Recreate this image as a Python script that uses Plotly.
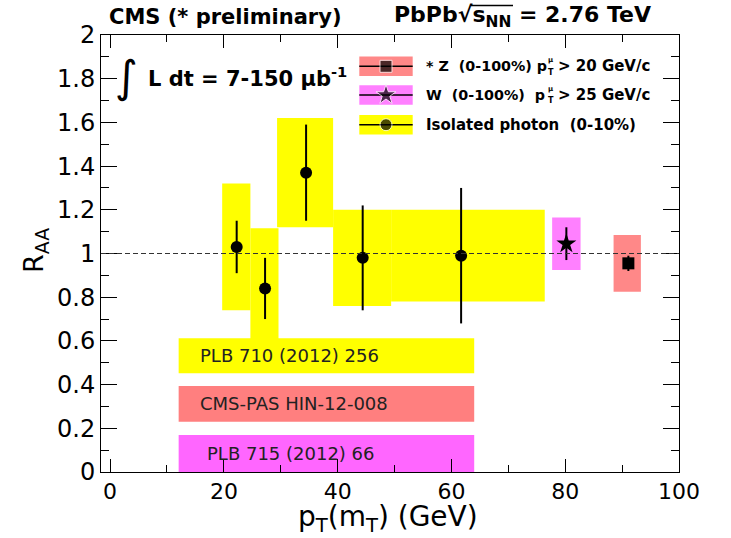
import plotly.graph_objects as go

# ---- Isolated photon R_AA (0-10%) ----
photon_pt = [22.25, 27.24, 34.45, 44.4, 61.7]
photon_raa = [1.03, 0.84, 1.37, 0.98, 0.99]
photon_stat = [0.12, 0.14, 0.22, 0.24, 0.31]
photon_syst = [0.29, 0.275, 0.25, 0.22, 0.21]
photon_bin_lo = [19.7, 24.66, 29.35, 39.2, 49.4]
photon_bin_hi = [24.66, 29.6, 39.2, 49.4, 76.4]

# ---- W (0-100%), pT(mu) > 25 GeV/c ----
w_mt = [80.2]
w_raa = [1.045]
w_stat = [0.075]
w_syst = [0.12]
w_bin_lo = [77.7]
w_bin_hi = [82.7]

# ---- Z (0-100%), pT(mu) > 20 GeV/c ----
z_m = [91.1]
z_raa = [0.955]
z_stat = [0.035]
z_syst = [0.13]
z_bin_lo = [88.5]
z_bin_hi = [93.3]

# ---- publication reference bands ----
ref_labels = ["PLB 710 (2012) 256", "CMS-PAS HIN-12-008", "PLB 715 (2012) 66"]
ref_lo = [0.452, 0.230, 0.0]
ref_hi = [0.612, 0.394, 0.169]
ref_colors = ["#ffff00", "#ff7f7f", "#ff66ff"]
ref_x = [12.05, 64.0]
ref_label_x = [15.4, 15.4, 16.6]

YELLOW = "#ffff00"
PINK = "#ff80ff"
SALMON = "#ff8888"

W_PX, H_PX = 731, 538
ML, MR, MT, MB = 101, 52, 35, 66
PW, PH = W_PX - ML - MR, H_PX - MT - MB


def px2x(px):
    return (px - ML) / PW


def py2y(py):
    return (H_PX - MB - py) / PH


FONT = "DejaVu Sans"

fig = go.Figure()
shapes = []
annotations = []

# systematic boxes
for lo, hi, v, s in zip(photon_bin_lo, photon_bin_hi, photon_raa, photon_syst):
    shapes.append(dict(type="rect", xref="x", yref="y", x0=lo, x1=hi, y0=v - s, y1=v + s,
                       fillcolor=YELLOW, line=dict(width=0), layer="below"))
for lo, hi, v, s in zip(w_bin_lo, w_bin_hi, w_raa, w_syst):
    shapes.append(dict(type="rect", xref="x", yref="y", x0=lo, x1=hi, y0=v - s, y1=v + s,
                       fillcolor=PINK, line=dict(width=0), layer="below"))
for lo, hi, v, s in zip(z_bin_lo, z_bin_hi, z_raa, z_syst):
    shapes.append(dict(type="rect", xref="x", yref="y", x0=lo, x1=hi, y0=v - s, y1=v + s,
                       fillcolor=SALMON, line=dict(width=0), layer="below"))

# reference bands with their labels
for lab, lo, hi, col, lx in zip(ref_labels, ref_lo, ref_hi, ref_colors, ref_label_x):
    shapes.append(dict(type="rect", xref="x", yref="y", x0=ref_x[0], x1=ref_x[1], y0=lo, y1=hi,
                       fillcolor=col, line=dict(width=0), layer="below"))
    annotations.append(dict(x=lx, y=(lo + hi) / 2, xref="x", yref="y", text=lab, showarrow=False,
                            xanchor="left", yanchor="middle",
                            font=dict(family=FONT, size=18, color="#222")))

# unity line
shapes.append(dict(type="line", xref="paper", yref="y", x0=0, x1=1, y0=1, y1=1,
                   line=dict(color="#333", width=1, dash="5px,3px"), layer="above"))

err = dict(type="data", symmetric=True, thickness=2, width=0, color="black")

fig.add_trace(go.Scatter(x=photon_pt, y=photon_raa, mode="markers",
                         marker=dict(symbol="circle", size=12, color="black"),
                         error_y=dict(err, array=photon_stat)))
fig.add_trace(go.Scatter(x=w_mt, y=w_raa, mode="markers",
                         marker=dict(symbol="star", size=15, color="black"),
                         error_y=dict(err, array=w_stat)))
fig.add_trace(go.Scatter(x=z_m, y=z_raa, mode="markers",
                         marker=dict(symbol="square", size=12, color="black"),
                         error_y=dict(err, array=z_stat)))

# ---- legend, drawn by hand ----
leg_rows = [66.3, 95.0, 124.7]
leg_colors = [SALMON, PINK, YELLOW]
leg_symbols = ["square", "star", "circle"]
leg_sizes = [12, 15, 12]
leg_box = (359.3, 412.7)
leg_h = 19.5
for row, col in zip(leg_rows, leg_colors):
    shapes.append(dict(type="rect", xref="paper", yref="paper",
                       x0=px2x(leg_box[0]), x1=px2x(leg_box[1]),
                       y0=py2y(row + leg_h / 2), y1=py2y(row - leg_h / 2),
                       fillcolor=col, line=dict(width=0), layer="below"))
    shapes.append(dict(type="line", xref="paper", yref="paper",
                       x0=px2x(leg_box[0]), x1=px2x(leg_box[1]),
                       y0=py2y(row), y1=py2y(row),
                       line=dict(color="black", width=1.5), layer="below"))

fig.add_trace(go.Scatter(x=[px2x(386)] * 3, y=[py2y(r) for r in leg_rows], mode="markers",
                         xaxis="x2", yaxis="y2", cliponaxis=False,
                         marker=dict(symbol=leg_symbols, size=leg_sizes, color="black")))

LEG_FONT = dict(family=FONT, size=15, color="black")
NB = "\u00a0"
leg_left = ["<b>* Z" + NB * 2 + "(0-100%) p</b>", "<b>W" + NB * 2 + "(0-100%)" + NB * 2 + "p</b>", None]
leg_right = ["<b>&gt; 20 GeV/c</b>", "<b>&gt; 25 GeV/c</b>", None]
for row, lt, rt in zip(leg_rows, leg_left, leg_right):
    if lt is None:
        continue
    annotations.append(dict(x=px2x(424), y=py2y(row), xref="paper", yref="paper", text=lt,
                            showarrow=False, xanchor="left", yanchor="middle",
                            font=dict(family=FONT, size=14.3, color="black")))
    annotations.append(dict(x=px2x(550.5), y=py2y(row - 6), xref="paper", yref="paper",
                            text="<b>\u03bc</b>", showarrow=False, xanchor="center",
                            yanchor="middle", font=dict(family=FONT, size=7, color="black")))
    annotations.append(dict(x=px2x(550.5), y=py2y(row + 6), xref="paper", yref="paper",
                            text="<b>T</b>", showarrow=False, xanchor="center",
                            yanchor="middle", font=dict(family=FONT, size=8, color="black")))
    annotations.append(dict(x=px2x(556), y=py2y(row), xref="paper", yref="paper", text=rt,
                            showarrow=False, xanchor="left", yanchor="middle", font=LEG_FONT))
annotations.append(dict(x=px2x(424), y=py2y(leg_rows[2]), xref="paper", yref="paper",
                        text="<b>Isolated photon" + NB * 2 + "(0-10%)</b>",
                        showarrow=False, xanchor="left", yanchor="middle", font=LEG_FONT))

# ---- titles and labels ----
annotations.append(dict(x=px2x(107), y=py2y(17), xref="paper", yref="paper",
                        text="<b>CMS (* preliminary)</b>", showarrow=False,
                        xanchor="left", yanchor="middle",
                        font=dict(family=FONT, size=21, color="black")))
annotations.append(dict(x=px2x(392), y=py2y(17), xref="paper", yref="paper",
                        text="<b>PbPb\u221as<sub>NN</sub> = 2.76 TeV</b>", showarrow=False,
                        xanchor="left", yanchor="middle",
                        font=dict(family=FONT, size=22, color="black")))
shapes.append(dict(type="line", xref="paper", yref="paper",
                   x0=px2x(471), x1=px2x(513), y0=py2y(5.5), y1=py2y(5.5),
                   line=dict(color="black", width=1.5)))

annotations.append(dict(x=px2x(126), y=py2y(76), xref="paper", yref="paper",
                        text="\u222b", showarrow=False, xanchor="center", yanchor="middle",
                        font=dict(family=FONT, size=44, color="black")))
annotations.append(dict(x=px2x(146), y=py2y(77), xref="paper", yref="paper",
                        text="<b>L dt = 7-150 \u03bcb<sup>-1</sup></b>", showarrow=False,
                        xanchor="left", yanchor="middle",
                        font=dict(family=FONT, size=21, color="black")))

annotations.append(dict(x=px2x(388), y=py2y(518), xref="paper", yref="paper",
                        text="p<sub>T</sub>(m<sub>T</sub>) (GeV)", showarrow=False,
                        xanchor="center", yanchor="middle",
                        font=dict(family=FONT, size=28, color="black")))
annotations.append(dict(x=px2x(36), y=py2y(251), xref="paper", yref="paper",
                        text="R<sub>AA</sub>", showarrow=False, textangle=-90,
                        xanchor="center", yanchor="middle",
                        font=dict(family=FONT, size=27, color="black")))

axis_common = dict(showline=True, linecolor="black", linewidth=1, mirror="allticks",
                   ticks="inside", tickcolor="black", tickwidth=1, showgrid=False,
                   zeroline=False, tickfont=dict(family=FONT, size=24, color="black"))

fig.update_layout(
    width=W_PX, height=H_PX,
    margin=dict(l=ML, r=MR, t=MT, b=MB),
    plot_bgcolor="white", paper_bgcolor="white",
    showlegend=False,
    font=dict(family=FONT, color="black"),
    xaxis=dict(axis_common, range=[-1.6, 100], tick0=0, dtick=20, ticklen=13,
               tickfont=dict(family=FONT, size=22, color="black"),
               minor=dict(dtick=10, ticks="inside", ticklen=7, tickcolor="black", showgrid=False)),
    yaxis=dict(axis_common, range=[0, 2], tick0=0, dtick=0.2, ticklen=16,
               minor=dict(dtick=0.1, ticks="inside", ticklen=8, tickcolor="black", showgrid=False)),
    xaxis2=dict(overlaying="x", range=[0, 1], visible=False, fixedrange=True),
    yaxis2=dict(overlaying="y", range=[0, 1], visible=False, fixedrange=True, anchor="x2"),
    shapes=shapes,
    annotations=annotations,
)

fig.write_html("out.html")
